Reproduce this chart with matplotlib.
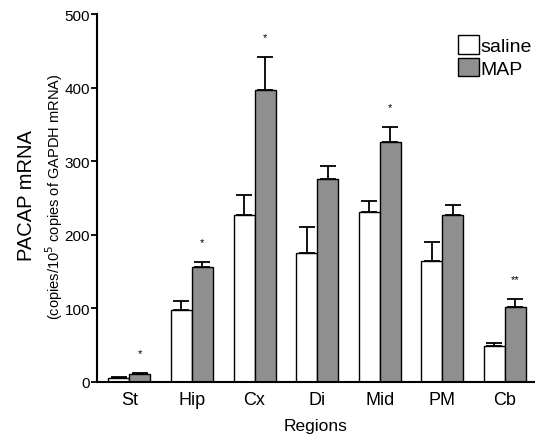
import matplotlib
matplotlib.use("Agg")
import matplotlib.pyplot as plt
import numpy as np

plt.rcParams['font.family'] = ['Liberation Sans', 'DejaVu Sans']

regions = ["St", "Hip", "Cx", "Di", "Mid", "PM", "Cb"]
saline = [4.6, 97, 226, 175, 231, 164, 48]
saline_err = [1.4, 13, 28, 36, 15, 26, 4]
map_vals = [10.9, 156, 397, 276, 326, 226, 101]
map_err = [1.0, 7, 45, 17, 20, 14, 12]
stars = ["*", "*", "*", "", "*", "", "**"]

fig = plt.figure(figsize=(5.35, 4.39), dpi=100)
W, H = 535, 439
ax = fig.add_axes([97 / W, 1 - 382.7 / H, (535 - 97) / W, (382.7 - 15) / H])

x = np.arange(len(regions))
w = 0.3356
ax.bar(x - w / 2, saline, w, color="white", edgecolor="black", linewidth=1.0,
       yerr=[np.zeros(len(saline)), saline_err], capsize=5.5,
       error_kw=dict(ecolor="black", elinewidth=1.3, capthick=1.3), label="saline")
ax.bar(x + w / 2, map_vals, w, color="#8f8f8f", edgecolor="black", linewidth=1.0,
       yerr=[np.zeros(len(map_vals)), map_err], capsize=5.5,
       error_kw=dict(ecolor="black", elinewidth=1.3, capthick=1.3), label="MAP")

for xi, v, e, s in zip(x, map_vals, map_err, stars):
    if s:
        ax.text(xi + w / 2, v + e + 20, s, ha="center", va="bottom", fontsize=8)

ax.set_xlim(-0.516, 6.48)
ax.set_ylim(0, 500)
ax.set_yticks([0, 100, 200, 300, 400, 500])
ax.tick_params(axis='y', direction='out', length=4, width=1.3, labelsize=11, pad=1)
ax.set_xticks(x)
ax.set_xticklabels(regions)
ax.tick_params(axis='x', length=0, labelsize=13, pad=7)
for sp in ["top", "right"]:
    ax.spines[sp].set_visible(False)
for sp in ["left", "bottom"]:
    ax.spines[sp].set_linewidth(1.5)

ax.set_xlabel("Regions", fontsize=12.5, labelpad=7)
fig.text(27 / W, 1 - 196 / H, "PACAP mRNA", rotation=90, ha="center", va="center", fontsize=14.5)
fig.text(54 / W, 1 - 197 / H, "(copies/10$^5$ copies of GAPDH mRNA)", rotation=90,
         ha="center", va="center", fontsize=10.5)

leg = ax.legend(loc="upper left", bbox_to_anchor=(454 / W, 1 - 32 / H), bbox_transform=fig.transFigure,
                frameon=False, fontsize=14, handlelength=1.1, handleheight=1.1,
                handletextpad=0.05, labelspacing=0.15, borderpad=0.2, borderaxespad=0)
for p in leg.get_patches():
    p.set_linewidth(1.0)

fig.savefig("out.png", dpi=100)
